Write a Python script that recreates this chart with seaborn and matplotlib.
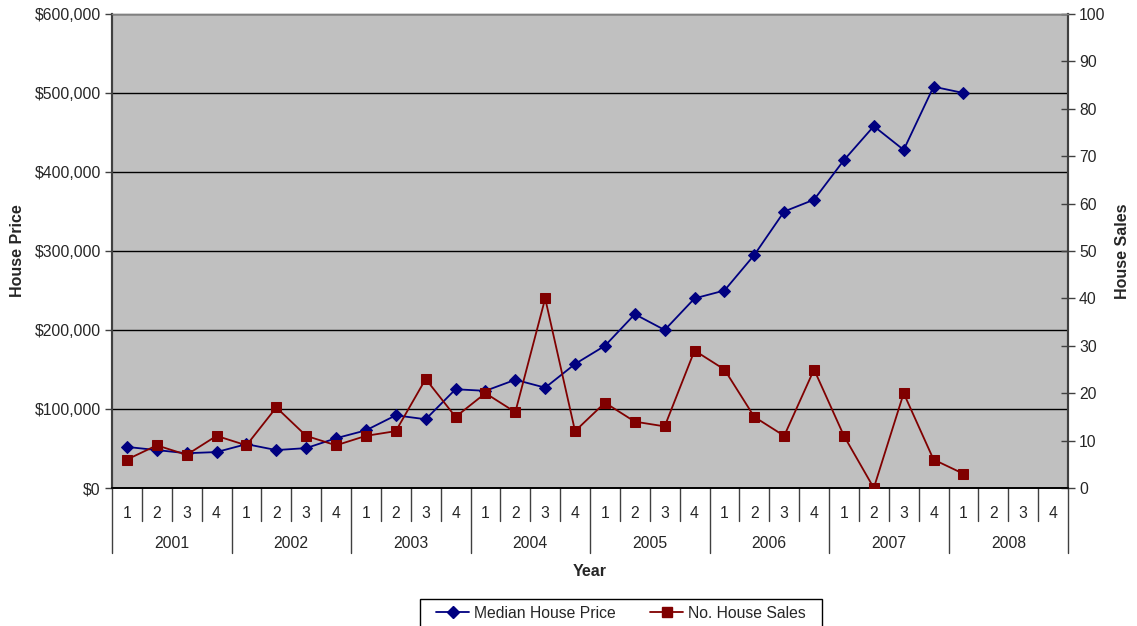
import numpy as np
import pandas as pd
import matplotlib
matplotlib.use("Agg")
import matplotlib.pyplot as plt
import matplotlib.transforms as mtransforms
from matplotlib.lines import Line2D
from matplotlib.patches import Rectangle
from matplotlib.ticker import FuncFormatter, MultipleLocator
import seaborn as sns

# Quarterly data, 2001 Q1 .. 2008 Q1
years = ["2001", "2002", "2003", "2004", "2005", "2006", "2007", "2008"]
quarters = ["1", "2", "3", "4"]
median_price = [52000, 48000, 44000, 45500,
                55500, 48000, 50500, 63000,
                73000, 92000, 87000, 125000,
                123000, 137000, 127000, 157000,
                180000, 220000, 200000, 240000,
                250000, 295000, 350000, 365000,
                415000, 458000, 428000, 508000,
                500000]
house_sales = [6, 9, 7, 11,
               9, 17, 11, 9,
               11, 12, 23, 15,
               20, 16, 40, 12,
               18, 14, 13, 29,
               25, 15, 11, 25,
               11, 0, 20, 6,
               3]

sns.set_style("white")
plt.rcParams["font.family"] = ["Liberation Sans", "DejaVu Sans"]

BLUE = "#000080"
RED = "#800000"
GREY = "#C0C0C0"
FS = 11.3
LFS = 11.5
W, H = 1137, 626

n_slots = len(years) * len(quarters)
df = pd.DataFrame({
    "idx": np.arange(len(median_price)),
    "price": median_price,
    "sales": house_sales,
})

fig = plt.figure(figsize=(W / 100, H / 100), dpi=100)
ax = fig.add_axes([112 / W, 1 - 488 / H, (1068 - 112) / W, (488 - 14) / H])
ax.set_facecolor(GREY)
ax2 = ax.twinx()

sns.lineplot(data=df, x="idx", y="price", ax=ax, color=BLUE, marker="D",
             markersize=6.5, markeredgecolor=BLUE, linewidth=1.3, zorder=3)
sns.lineplot(data=df, x="idx", y="sales", ax=ax2, color=RED, marker="s",
             markersize=7, markeredgecolor=RED, linewidth=1.3, zorder=3)

# Left axis: price
ax.set_xlim(-0.5, n_slots - 0.5)
ax.set_ylim(0, 600000)
ax.yaxis.set_major_locator(MultipleLocator(100000))
ax.yaxis.set_major_formatter(FuncFormatter(lambda v, p: f"${v:,.0f}"))
ax.grid(axis="y", color="black", linewidth=1.0)
ax.set_axisbelow(True)
ax.set_xticks([])
ax.set_xlabel("")
ax.set_ylabel("House Price", fontsize=LFS, fontweight="bold")
ax.yaxis.set_label_coords(-87 / 956, 0.5)
ax.tick_params(axis="y", direction="out", length=5, width=1, color="#404040",
               labelsize=FS, left=True, pad=3)

# Right axis: sales
ax2.set_ylim(0, 100)
ax2.yaxis.set_major_locator(MultipleLocator(10))
ax2.set_ylabel("House Sales", fontsize=LFS, fontweight="bold")
ax2.yaxis.set_label_coords(1 + 47 / 956, 0.5)
ax2.tick_params(axis="y", direction="inout", length=10, width=1, color="#404040",
                labelsize=FS, right=True, pad=3)
ax2.grid(False)
ax2.set_xlim(-0.5, n_slots - 0.5)

for a in (ax, ax2):
    for side in ("left", "right"):
        a.spines[side].set_color("#404040")
        a.spines[side].set_linewidth(1.5)
    a.spines["top"].set_color("#808080")
    a.spines["top"].set_linewidth(1.0)
    a.spines["bottom"].set_color("black")
    a.spines["bottom"].set_linewidth(1.2)

# Two-level category axis: quarters and years
trans = mtransforms.blended_transform_factory(ax.transData, ax.transAxes)
q_bot = -33 / 474
y_bot = -65 / 474
for i in range(n_slots + 1):
    x = i - 0.5
    bottom = y_bot if i % 4 == 0 else q_bot
    ax.add_line(Line2D([x, x], [0, bottom], transform=trans, color="#404040",
                       linewidth=1.0, clip_on=False))
for i in range(n_slots):
    ax.text(i, -25 / 474, quarters[i % 4], transform=trans, ha="center",
            va="center", fontsize=FS)
for j, yr in enumerate(years):
    ax.text(j * 4 + 1.5, -56 / 474, yr, transform=trans, ha="center",
            va="center", fontsize=FS)
ax.text(15.5, -83 / 474, "Year", transform=trans, ha="center", va="center",
        fontsize=LFS, fontweight="bold")

# Legend: entries without frame, box drawn separately (runs off the bottom edge)
handles = [
    Line2D([], [], color=BLUE, marker="D", markersize=6.5, linewidth=1.3),
    Line2D([], [], color=RED, marker="s", markersize=7, linewidth=1.3),
]
leg = fig.legend(handles, ["Median House Price", "No. House Sales"], loc="center",
                 bbox_to_anchor=(621 / W, 1 - 613 / H), ncol=2, frameon=False,
                 fontsize=FS, handlelength=2.1, handletextpad=0.3,
                 columnspacing=2.2, borderpad=0.5)
fig.patches.append(Rectangle((420 / W, -0.02), (822 - 420) / W, 0.02 + (626 - 599) / H,
                             transform=fig.transFigure, fill=False,
                             edgecolor="black", linewidth=1.0))

fig.savefig("out.png", dpi=100, facecolor="white")
